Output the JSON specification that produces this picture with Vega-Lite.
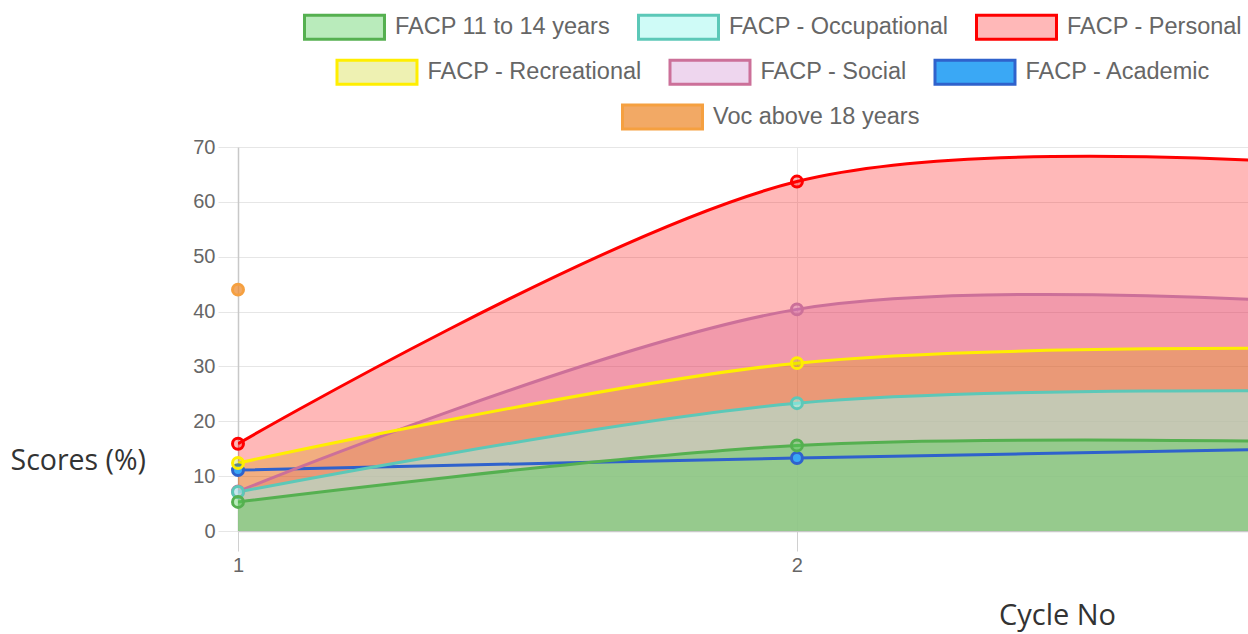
{
  "$schema": "https://vega.github.io/schema/vega-lite/v6.json",
  "width": 1010,
  "height": 384,
  "autosize": "none",
  "padding": {"left": 238, "top": 147, "right": 0, "bottom": 103},
  "background": "white",
  "config": {"view": {"stroke": null}, "font": "Liberation Sans"},
  "datasets": {
    "scores": [
      {"series": "FACP - Academic", "cycle": 1, "score": 11.1},
      {"series": "FACP - Academic", "cycle": 2, "score": 13.3},
      {"series": "FACP - Academic", "cycle": 3, "score": 15.15},
      {"series": "FACP - Social", "cycle": 1, "score": 7.2},
      {"series": "FACP - Social", "cycle": 2, "score": 40.4},
      {"series": "FACP - Social", "cycle": 3, "score": 41.1},
      {"series": "FACP - Recreational", "cycle": 1, "score": 12.4},
      {"series": "FACP - Recreational", "cycle": 2, "score": 30.6},
      {"series": "FACP - Recreational", "cycle": 3, "score": 33.2},
      {"series": "FACP - Personal", "cycle": 1, "score": 15.9},
      {"series": "FACP - Personal", "cycle": 2, "score": 63.7},
      {"series": "FACP - Personal", "cycle": 3, "score": 66.4},
      {"series": "FACP - Occupational", "cycle": 1, "score": 7.1},
      {"series": "FACP - Occupational", "cycle": 2, "score": 23.3},
      {"series": "FACP - Occupational", "cycle": 3, "score": 25.45},
      {"series": "FACP 11 to 14 years", "cycle": 1, "score": 5.3},
      {"series": "FACP 11 to 14 years", "cycle": 2, "score": 15.6},
      {"series": "FACP 11 to 14 years", "cycle": 3, "score": 16.15},
      {"series": "Voc above 18 years", "cycle": 1, "score": 44}
    ]
  },
  "data": {"name": "scores"},
  "encoding": {
    "x": {
      "field": "cycle", "type": "quantitative",
      "scale": {"domain": [1, 2.807], "nice": false, "zero": false},
      "axis": {
        "values": [1, 2], "format": "d", "title": "Cycle No", "grid": true,
        "gridColor": "#e6e6e6", "domainColor": "#c8c8c8", "domainWidth": 1.5,
        "tickColor": "#d0d0d0", "tickSize": 20, "labelFontSize": 20, "labelColor": "#666",
        "labelPadding": 4, "labelFlush": false, "labelFont": "Liberation Sans",
        "titleFont": "Open Sans", "titleFontSize": 29, "titleFontWeight": "normal", "titleColor": "#333",
        "titleX": 819, "titleY": 84, "titleAlign": "center", "titleBaseline": "middle"
      }
    },
    "y": {
      "field": "score", "type": "quantitative", "stack": null,
      "scale": {"domain": [0, 70], "nice": false},
      "axis": {
        "values": [0, 10, 20, 30, 40, 50, 60, 70], "title": "Scores (%)", "grid": true,
        "gridColor": "#e6e6e6", "domainColor": "#c8c8c8", "domainWidth": 1.5,
        "tickColor": "#e6e6e6", "tickSize": 20, "labelFontSize": 20, "labelColor": "#666",
        "labelPadding": 3, "labelFont": "Liberation Sans",
        "titleFont": "Open Sans", "titleFontSize": 28.5, "titleFontWeight": "normal", "titleColor": "#333",
        "titleAngle": 0, "titleX": -228, "titleY": 313, "titleAlign": "left", "titleBaseline": "middle"
      }
    }
  },
  "layer": [
    {
      "transform": [{"filter": {"field": "series", "oneOf": ["FACP - Social", "FACP - Recreational", "FACP - Personal", "FACP - Occupational", "FACP 11 to 14 years"]}}],
      "mark": {"type": "area", "interpolate": "cardinal", "clip": true},
      "encoding": {
        "fill": {
          "field": "series", "type": "nominal", "legend": null,
          "scale": {
            "domain": ["FACP - Social", "FACP - Recreational", "FACP - Personal", "FACP - Occupational", "FACP 11 to 14 years"],
            "range": ["rgba(200,120,200,0.3)", "rgba(200,210,0,0.3)", "rgba(255,0,0,0.28)", "rgba(160,248,240,0.5)", "rgba(80,205,85,0.4)"]
          }
        }
      }
    },
    {
      "transform": [{"filter": {"field": "series", "oneOf": ["FACP - Academic", "FACP - Social", "FACP - Recreational", "FACP - Personal", "FACP - Occupational", "FACP 11 to 14 years"]}}],
      "mark": {"type": "line", "interpolate": "cardinal", "clip": true, "strokeWidth": 3},
      "encoding": {
        "stroke": {
          "field": "series", "type": "nominal", "legend": null,
          "scale": {
            "domain": ["FACP - Academic", "FACP - Social", "FACP - Recreational", "FACP - Personal", "FACP - Occupational", "FACP 11 to 14 years"],
            "range": ["#2f62cc", "#cc7099", "#ffee00", "#ff0000", "#5cc8b8", "#55b050"]
          }
        }
      }
    },
    {
      "transform": [{"filter": {"field": "series", "equal": "Voc above 18 years"}}],
      "mark": {"type": "circle", "size": 120, "strokeWidth": 3, "opacity": 1},
      "encoding": {
        "fill": {
          "field": "series", "type": "nominal",
          "scale": {"domain": ["Voc above 18 years"], "range": ["rgba(238,140,50,0.75)"]},
          "legend": {"orient": "none", "legendX": 383, "legendY": -55.5, "title": null, "direction": "horizontal", "symbolType": "M-1,-0.5H2.333V0.5H-1Z", "symbolSize": 2304, "symbolStrokeWidth": 3, "labelFontSize": 23.5, "labelColor": "#666", "labelFont": "Liberation Sans", "labelOffset": 41, "labelLimit": 400, "columnPadding": 21, "padding": 0}
        },
        "stroke": {
          "field": "series", "type": "nominal",
          "scale": {"domain": ["Voc above 18 years"], "range": ["#f5a040"]},
          "legend": {"orient": "none", "legendX": 383, "legendY": -55.5, "title": null, "direction": "horizontal", "symbolType": "M-1,-0.5H2.333V0.5H-1Z", "symbolSize": 2304, "symbolStrokeWidth": 3, "labelFontSize": 23.5, "labelColor": "#666", "labelFont": "Liberation Sans", "labelOffset": 41, "labelLimit": 400, "columnPadding": 21, "padding": 0}
        }
      }
    },
    {
      "transform": [{"filter": {"field": "series", "oneOf": ["FACP - Recreational", "FACP - Social", "FACP - Academic"]}}],
      "mark": {"type": "circle", "size": 120, "strokeWidth": 3, "opacity": 1},
      "encoding": {
        "fill": {
          "field": "series", "type": "nominal",
          "scale": {"domain": ["FACP - Recreational", "FACP - Social", "FACP - Academic"], "range": ["rgba(200,210,0,0.3)", "rgba(200,120,200,0.3)", "rgb(58,168,245)"]},
          "legend": {"orient": "none", "legendX": 97.5, "legendY": -100.5, "title": null, "direction": "horizontal", "symbolType": "M-1,-0.5H2.333V0.5H-1Z", "symbolSize": 2304, "symbolStrokeWidth": 3, "labelFontSize": 23.5, "labelColor": "#666", "labelFont": "Liberation Sans", "labelOffset": 41, "labelLimit": 400, "columnPadding": 21, "padding": 0}
        },
        "stroke": {
          "field": "series", "type": "nominal",
          "scale": {"domain": ["FACP - Recreational", "FACP - Social", "FACP - Academic"], "range": ["#ffee00", "#cc7099", "#2f62cc"]},
          "legend": {"orient": "none", "legendX": 97.5, "legendY": -100.5, "title": null, "direction": "horizontal", "symbolType": "M-1,-0.5H2.333V0.5H-1Z", "symbolSize": 2304, "symbolStrokeWidth": 3, "labelFontSize": 23.5, "labelColor": "#666", "labelFont": "Liberation Sans", "labelOffset": 41, "labelLimit": 400, "columnPadding": 21, "padding": 0}
        }
      }
    },
    {
      "transform": [{"filter": {"field": "series", "oneOf": ["FACP 11 to 14 years", "FACP - Occupational", "FACP - Personal"]}}],
      "mark": {"type": "circle", "size": 120, "strokeWidth": 3, "opacity": 1},
      "encoding": {
        "fill": {
          "field": "series", "type": "nominal",
          "scale": {"domain": ["FACP 11 to 14 years", "FACP - Occupational", "FACP - Personal"], "range": ["rgba(80,205,85,0.4)", "rgba(160,248,240,0.5)", "rgba(255,0,0,0.28)"]},
          "legend": {"orient": "none", "legendX": 65, "legendY": -145.5, "title": null, "direction": "horizontal", "symbolType": "M-1,-0.5H2.333V0.5H-1Z", "symbolSize": 2304, "symbolStrokeWidth": 3, "labelFontSize": 23.5, "labelColor": "#666", "labelFont": "Liberation Sans", "labelOffset": 41, "labelLimit": 400, "columnPadding": 21, "padding": 0}
        },
        "stroke": {
          "field": "series", "type": "nominal",
          "scale": {"domain": ["FACP 11 to 14 years", "FACP - Occupational", "FACP - Personal"], "range": ["#55b050", "#5cc8b8", "#ff0000"]},
          "legend": {"orient": "none", "legendX": 65, "legendY": -145.5, "title": null, "direction": "horizontal", "symbolType": "M-1,-0.5H2.333V0.5H-1Z", "symbolSize": 2304, "symbolStrokeWidth": 3, "labelFontSize": 23.5, "labelColor": "#666", "labelFont": "Liberation Sans", "labelOffset": 41, "labelLimit": 400, "columnPadding": 21, "padding": 0}
        }
      }
    }
  ],
  "resolve": {
    "scale": {"fill": "independent", "stroke": "independent"},
    "legend": {"fill": "independent", "stroke": "independent"}
  }
}
